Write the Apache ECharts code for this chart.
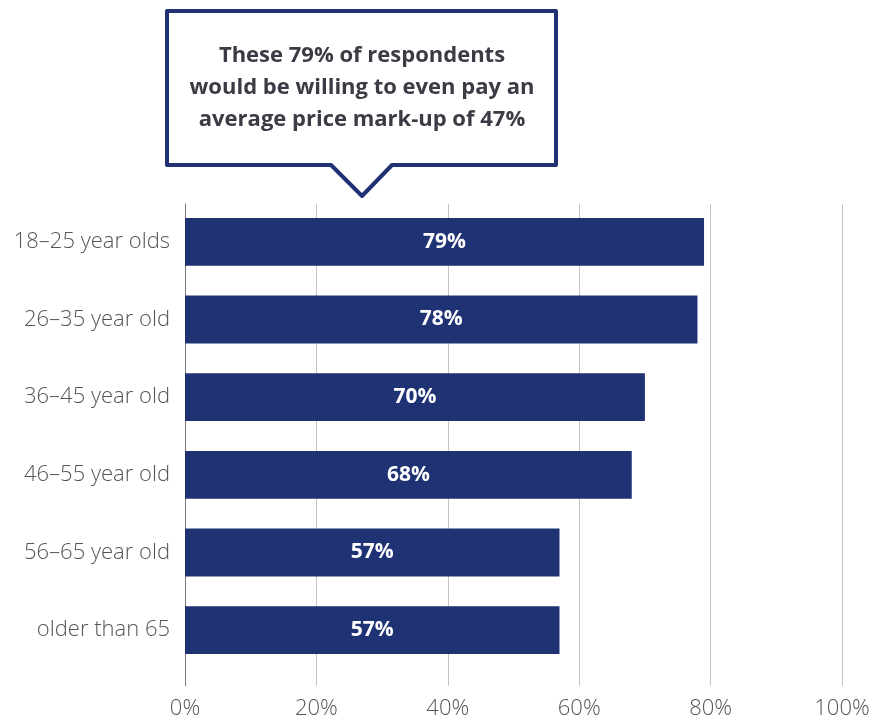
<!DOCTYPE html>
<html>
<head>
<meta charset="utf-8">
<script src="https://cdn.jsdelivr.net/npm/echarts@6/dist/echarts.min.js"></script>
<style>
  html, body { margin: 0; padding: 0; background: #ffffff; }
  #chart { width: 881px; height: 720px; }
</style>
</head>
<body>
<div id="chart"></div>
<script>
// Age groups, top to bottom
const ageGroups = ['18–25 year olds', '26–35 year old', '36–45 year old', '46–55 year old', '56–65 year old', 'older than 65'];
// Share of respondents (%) per age group
const shares = [79, 78, 70, 68, 57, 57];
// Percentage axis ticks
const axisMin = 0;
const axisMax = 100;
const axisStep = 20;
// Callout text
const calloutLines = ['These 79% of respondents', 'would be willing to even pay an', 'average price mark-up of 47%'];

const navy = '#1f3274';
const labelGrey = '#555555';
const font = '"Open Sans", "Noto Sans", sans-serif';

const chart = echarts.init(document.getElementById('chart'), null, { renderer: 'canvas' });

chart.setOption({
  animation: false,
  backgroundColor: '#ffffff',
  grid: [
    // bars
    { left: 185, right: 39, top: 203, bottom: 51, containLabel: false },
    // gridlines and percentage labels
    { left: 185, right: 39, top: 204, bottom: 34, containLabel: false }
  ],
  xAxis: [
    { gridIndex: 0, type: 'value', min: axisMin, max: axisMax, interval: axisStep, show: false },
    {
      gridIndex: 1, type: 'value', min: axisMin, max: axisMax, interval: axisStep,
      axisLine: { show: false }, axisTick: { show: false },
      splitLine: { show: true, lineStyle: { color: '#c4c4c4', width: 1 } },
      axisLabel: { formatter: '{value}%', color: labelGrey, fontSize: 22, fontFamily: font, fontWeight: 300, margin: 12 }
    }
  ],
  yAxis: [
    {
      gridIndex: 0, type: 'category', data: ageGroups, inverse: true,
      axisLine: { show: false }, axisTick: { show: false }, splitLine: { show: false },
      axisLabel: { color: labelGrey, fontSize: 22, fontFamily: font, fontWeight: 300, margin: 15 }
    },
    {
      gridIndex: 1, type: 'value', min: 0, max: 1,
      axisLine: { show: true, onZero: false, lineStyle: { color: '#7a7a7a', width: 1 } },
      axisTick: { show: false }, axisLabel: { show: false }, splitLine: { show: false }
    }
  ],
  series: [
    {
      type: 'bar',
      xAxisIndex: 0, yAxisIndex: 0,
      data: shares,
      barWidth: '61.5%',
      itemStyle: { color: navy },
      label: {
        show: true, position: 'inside', formatter: '{c}%',
        color: '#ffffff', fontSize: 21, fontWeight: 'bold', fontFamily: font
      }
    }
  ],
  graphic: [
    {
      type: 'polygon',
      shape: {
        points: [[167, 11], [556, 11], [556, 165], [392, 165], [362, 196], [331, 165], [167, 165]]
      },
      style: { fill: '#ffffff', stroke: navy, lineWidth: 4, lineJoin: 'round' },
      z: 10
    },
    {
      type: 'text',
      x: 362, y: 88,
      style: {
        text: calloutLines.join('\n'),
        align: 'center', verticalAlign: 'middle',
        font: 'bold 22px ' + font,
        lineHeight: 32,
        fill: '#3a3b44'
      },
      z: 11
    }
  ]
});
</script>
</body>
</html>
